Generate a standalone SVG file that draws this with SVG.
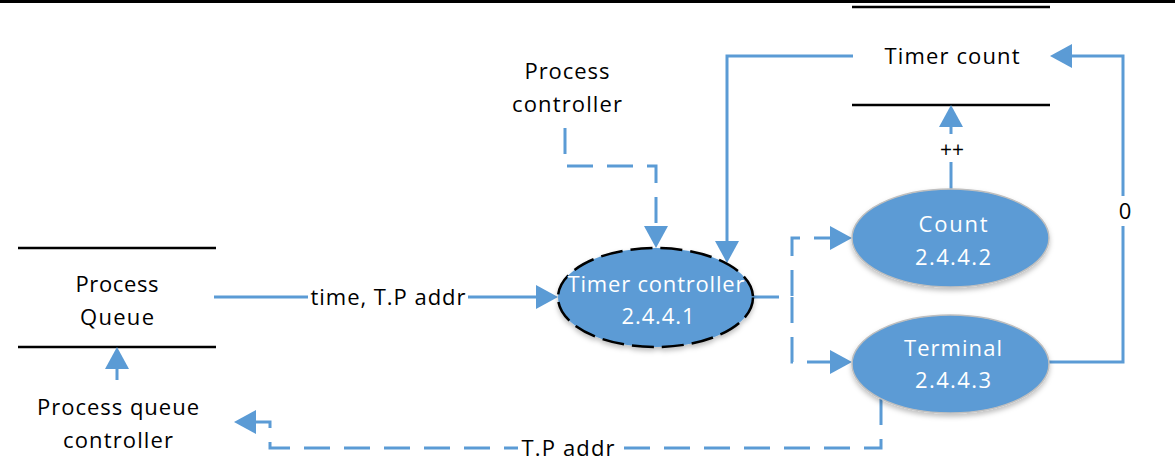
<svg xmlns="http://www.w3.org/2000/svg" width="1175" height="463" viewBox="0 0 1175 463">
<style>
.t{font-family:"Open Sans","Liberation Sans",sans-serif;font-size:22px;fill:#000;text-anchor:middle}
.w{fill:#fff}
.c{fill:none;stroke:#5B9BD5;stroke-width:3}
.d{stroke-dasharray:26 14}
.store{stroke:#000;stroke-width:2.5}
.ell{fill:#5B9BD5;stroke:#BFBFBF;stroke-width:1.5;filter:url(#sh)}
</style>
<defs>
<marker id="ah" markerUnits="userSpaceOnUse" markerWidth="22" markerHeight="24" refX="0" refY="12" orient="auto" viewBox="0 0 22 24">
<path d="M0,0 L22,12 L0,24 z" fill="#5B9BD5"/>
</marker>
<filter id="sh" x="-20%" y="-20%" width="140%" height="150%">
<feDropShadow dx="0" dy="3" stdDeviation="2.5" flood-color="#000" flood-opacity="0.25"/>
</filter>
</defs>
<rect x="0" y="0" width="1175" height="3" fill="#000"/>

<g id="timer-count">
<line class="store" x1="852" y1="7" x2="1050" y2="7"/>
<line class="store" x1="852" y1="105" x2="1050" y2="105"/>
<text class="t" x="952" y="64" textLength="135" lengthAdjust="spacing">Timer count</text>
</g>

<g id="process-queue">
<line class="store" x1="18" y1="248" x2="216" y2="248"/>
<line class="store" x1="18" y1="347" x2="216" y2="347"/>
<text class="t" x="117" y="292" textLength="83" lengthAdjust="spacing">Process</text>
<text class="t" x="117" y="325" textLength="74" lengthAdjust="spacing">Queue</text>
</g>

<g id="process-controller">
<text class="t" x="567" y="79" textLength="85" lengthAdjust="spacing">Process</text>
<text class="t" x="567" y="112" textLength="110" lengthAdjust="spacing">controller</text>
</g>

<g id="process-queue-controller">
<text class="t" x="118" y="415" textLength="162" lengthAdjust="spacing">Process queue</text>
<text class="t" x="118" y="448" textLength="110" lengthAdjust="spacing">controller</text>
</g>

<g id="connectors">
<path class="c" d="M214,297 H536" marker-end="url(#ah)"/>
<rect x="308" y="285" width="160" height="24" fill="#fff"/>
<text class="t" x="388" y="305" textLength="155" lengthAdjust="spacing">time, T.P addr</text>

<path class="c d" d="M565,128 V166 H656 V226" marker-end="url(#ah)"/>
<path class="c" d="M853,56 H727 V241" marker-end="url(#ah)"/>
<path class="c d" d="M753,297 H792 V238 H830" marker-end="url(#ah)"/>
<path class="c d" d="M792,297 V362 H830" marker-end="url(#ah)"/>
<path class="c" d="M951,189 V127" marker-end="url(#ah)"/>
<rect x="934" y="134" width="34" height="28" fill="#fff"/>
<text class="t" x="952" y="157" style="font-size:21px">++</text>
<path class="c" d="M1049,362 H1123 V56 H1072" marker-end="url(#ah)"/>
<rect x="1112" y="196" width="26" height="30" fill="#fff"/>
<text class="t" x="1125" y="219" style="font-size:22px">0</text>
<path class="c d" d="M881,399 V448 H270 V422 H256" marker-end="url(#ah)"/>
<rect x="518" y="438" width="100" height="22" fill="#fff"/>
<text class="t" x="568" y="456" textLength="93" lengthAdjust="spacing">T.P addr</text>
<path class="c" d="M117,380 V369" marker-end="url(#ah)"/>
</g>

<g id="timer-controller">
<ellipse class="ell" cx="655.5" cy="297.5" rx="97.5" ry="49.5" style="stroke:#000;stroke-width:2.5;stroke-dasharray:22 8"/>
<text class="t w" x="656" y="292" textLength="177" lengthAdjust="spacing">Timer controller</text>
<text class="t w" x="658" y="324" textLength="73" lengthAdjust="spacing">2.4.4.1</text>
</g>

<g id="count">
<ellipse class="ell" cx="950.5" cy="238" rx="98.5" ry="49"/>
<text class="t w" x="953" y="232" textLength="69" lengthAdjust="spacing">Count</text>
<text class="t w" x="953" y="265" textLength="76" lengthAdjust="spacing">2.4.4.2</text>
</g>

<g id="terminal">
<ellipse class="ell" cx="950.5" cy="364" rx="98.5" ry="49"/>
<text class="t w" x="953" y="356" textLength="98" lengthAdjust="spacing">Terminal</text>
<text class="t w" x="953" y="388" textLength="76" lengthAdjust="spacing">2.4.4.3</text>
</g>
</svg>
